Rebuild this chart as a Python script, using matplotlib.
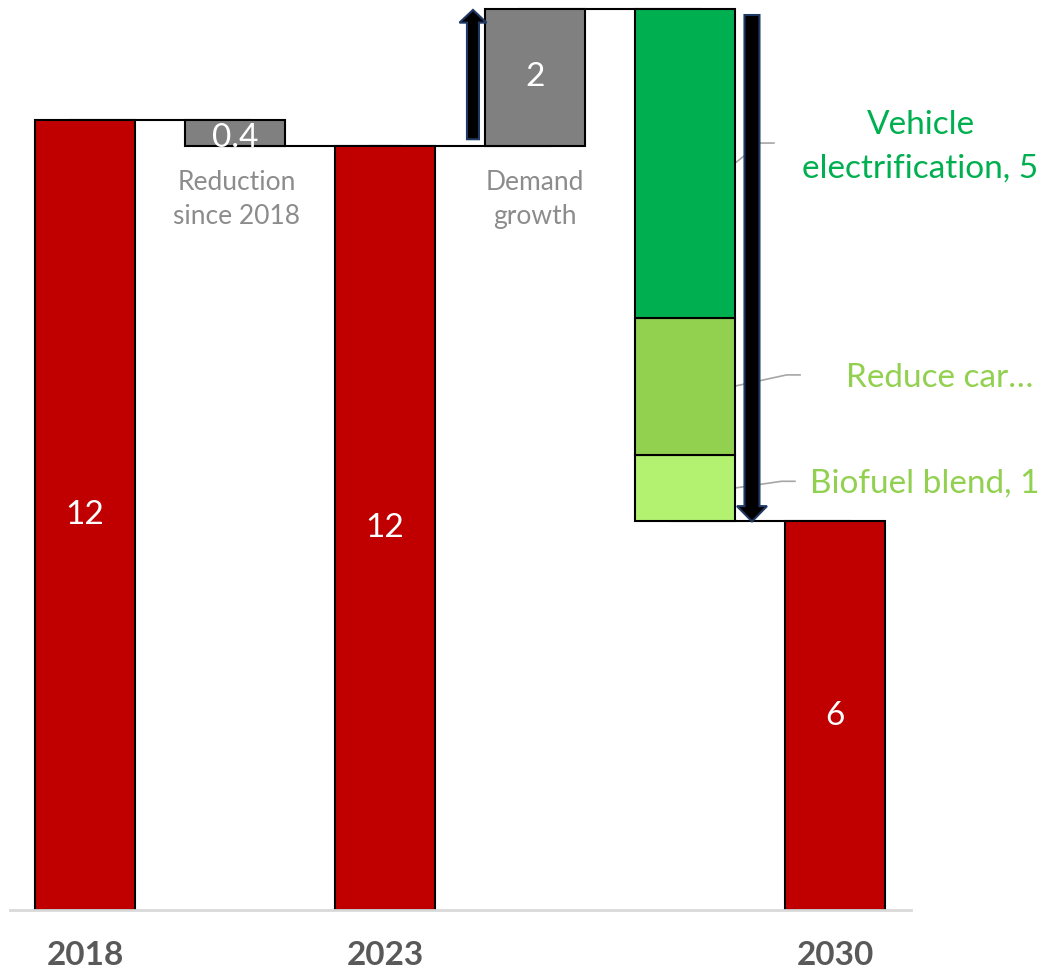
import matplotlib.pyplot as plt
from matplotlib.patches import FancyArrow

plt.rcParams['font.family'] = ['Lato', 'DejaVu Sans']

# waterfall data (Mt CO2e)
value_2018 = 12.4
reduction = 0.4
demand_growth = 2.15
measure_names = ['Biofuel blend, 1', 'Reduce car…', 'Vehicle\nelectrification, 5']
measure_values = [1.05, 2.15, 4.85]
measure_colors = ['#B3F271', '#92D050', '#00B050']
measure_text_colors = ['#92D050', '#92D050', '#00B050']
year_labels = ['2018', '2023', '2030']

value_2023 = value_2018 - reduction
peak = value_2023 + demand_growth
value_2030 = peak - sum(measure_values)

red = '#C00000'
grey = '#808080'
w = 0.667

fig = plt.figure(figsize=(10.51, 9.73), dpi=100)
ax = fig.add_axes([0, 63 / 973, 1, 910 / 973])
ax.set_xlim(-85 / 150, 966 / 150)
ax.set_ylim(0, 910 / 63.7)

bar_kw = dict(width=w, edgecolor='black', linewidth=1.5, zorder=2)
ax.bar(0, value_2018, color=red, **bar_kw)
ax.bar(1, reduction, bottom=value_2023, color=grey, **bar_kw)
ax.bar(2, value_2023, color=red, **bar_kw)
ax.bar(3, demand_growth, bottom=value_2023, color=grey, **bar_kw)
bottom = value_2030
mids = []
for v, c in zip(measure_values, measure_colors):
    ax.bar(4, v, bottom=bottom, color=c, **bar_kw)
    mids.append(bottom + v / 2)
    bottom += v
ax.bar(5, value_2030, color=red, **bar_kw)

# connector lines
steps = [(0, value_2018), (1, value_2023), (2, value_2023), (3, peak), (4, value_2030)]
for i, y in steps:
    ax.plot([i - 0.1, i + 1.1], [y, y], color='black', lw=1.5, zorder=1)

# baseline
ax.plot([-0.5, 5.51], [0, 0], color='#D9D9D9', lw=2, zorder=3, clip_on=False)

# values in bars
vkw = dict(color='white', fontsize=24, ha='center', va='center', zorder=5)
ax.text(0, value_2018 / 2, f'{value_2018:.0f}', **vkw)
ax.text(2, value_2023 / 2, f'{value_2023:.0f}', **vkw)
ax.text(5, value_2030 / 2, f'{value_2030:.0f}', **vkw)
ax.text(1, value_2023 + reduction / 2 - 0.08, f'{reduction:.1f}', **vkw)
ax.text(3, value_2023 + demand_growth / 2, f'{demand_growth:.0f}', **vkw)

gkw = dict(color='#8C8C8C', fontsize=19, ha='center', va='center', linespacing=1.45)
ax.text(1.01, 11.15, 'Reduction\nsince 2018', **gkw)
ax.text(3.0, 11.15, 'Demand\ngrowth', **gkw)

# measure labels with leader lines
label_pos = [(5.6, 6.70), (5.7, 8.35), (5.57, 11.98)]
leader_end = [(4.733, 6.73), (4.767, 8.40), (4.593, 12.04)]
for name, tc, m, (tx, ty), (lx, ly) in zip(measure_names, measure_text_colors, mids,
                                          label_pos, leader_end):
    ax.text(tx, ty, name, color=tc, fontsize=24, ha='center', va='center', linespacing=1.55)
    ax.plot([4 + w / 2, lx - 0.09, lx], [m, ly, ly], color='#A6A6A6', lw=1.2, zorder=1)

# arrows
up = FancyArrow(3 - w / 2 - 0.08, value_2023 + 0.1, 0, peak - value_2023 - 0.12,
                width=0.08, head_width=0.18, head_length=0.2,
                length_includes_head=True, facecolor='black', edgecolor='#1F3864',
                lw=1.5, zorder=4)
down = FancyArrow(4 + w / 2 + 0.113, peak - 0.1, 0, value_2030 - peak + 0.1,
                  width=0.1, head_width=0.2, head_length=0.24,
                  length_includes_head=True, facecolor='black', edgecolor='#1F3864',
                  lw=1.5, zorder=4)
ax.add_patch(up)
ax.add_patch(down)

ax.set_xticks([0, 2, 5], year_labels)
ax.tick_params(axis='x', length=0, pad=22, labelsize=24, labelcolor='#595959')
for t in ax.get_xticklabels():
    t.set_fontweight('bold')
ax.set_yticks([])
for s in ax.spines.values():
    s.set_visible(False)

fig.savefig('out.png', dpi=100)
